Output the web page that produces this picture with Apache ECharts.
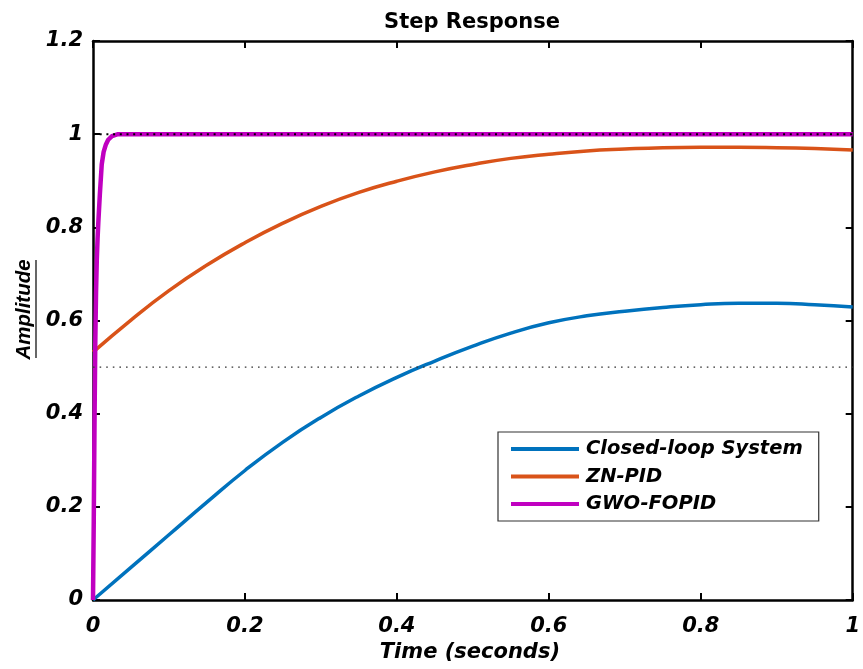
<!DOCTYPE html>
<html><head><meta charset="utf-8">
<script src="https://cdn.jsdelivr.net/npm/echarts@6/dist/echarts.min.js"></script>
<style>html,body{margin:0;padding:0;background:#fff}#c{width:863px;height:669px}</style>
</head><body><div id="c"></div>
<script>
const seriesNames = ['Closed-loop System', 'ZN-PID', 'GWO-FOPID'];
const tTime = [0, 0.05, 0.1, 0.15, 0.2, 0.25, 0.3, 0.35, 0.4, 0.45, 0.5, 0.55, 0.6, 0.65, 0.7, 0.75, 0.8, 0.85, 0.9, 0.95, 1.0];
const closedLoop = [0, 0.070, 0.140, 0.210, 0.278, 0.339, 0.392, 0.438, 0.478, 0.513, 0.545, 0.573, 0.595, 0.610, 0.620, 0.628, 0.634, 0.637, 0.637, 0.634, 0.629];
const znPid = [0.532, 0.601, 0.664, 0.719, 0.767, 0.809, 0.845, 0.875, 0.899, 0.919, 0.935, 0.948, 0.957, 0.964, 0.968, 0.971, 0.972, 0.972, 0.971, 0.969, 0.966];
const gwoTime = [0, 0.001, 0.002, 0.003, 0.004, 0.005, 0.006, 0.007, 0.009, 0.0115, 0.014, 0.017, 0.02, 0.025, 0.033, 1.0];
const gwoFopid = [0, 0.17, 0.38, 0.55, 0.66, 0.73, 0.775, 0.81, 0.87, 0.935, 0.962, 0.978, 0.988, 0.996, 1.0, 1.0];
const refTime = [0, 1];
const refFinal = [1, 1];
const refHalf = [0.5, 0.5];
const xTicks = [0, 0.2, 0.4, 0.6, 0.8, 1];
const yTicks = [0, 0.2, 0.4, 0.6, 0.8, 1, 1.2];

const zip = (a, b) => a.map((v, i) => [v, b[i]]);
const WIDE = '"DejaVu Sans", sans-serif';
const ARIAL = '"Liberation Sans", Arial, sans-serif';
const colors = ['#0072BD', '#D95319', '#C000C0'];

const chart = echarts.init(document.getElementById('c'), null, {renderer: 'canvas'});
const tickLabel = {fontFamily: WIDE, fontWeight: 'bold', fontStyle: 'italic', fontSize: 21, color: '#000'};
const axLine = {show: true, onZero: false, lineStyle: {color: '#000', width: 2.5}};
const axTick = {show: true, inside: true, length: 7, lineStyle: {color: '#000', width: 2}};
chart.setOption({
  animation: false,
  backgroundColor: '#fff',
  title: {
    text: 'Step Response', left: 467, top: 7, textAlign: 'center',
    textStyle: {fontFamily: WIDE, fontWeight: 'bold', fontSize: 21, color: '#000'}
  },
  grid: {left: 93, right: 9, top: 41, bottom: 69, containLabel: false},
  legend: {
    data: seriesNames, orient: 'vertical', left: 498, top: 432,
    itemWidth: 68, itemHeight: 4, itemGap: 7.5, icon: 'rect',
    padding: [7, 16, 7, 13],
    borderColor: '#333', borderWidth: 1.2, backgroundColor: '#fff',
    textStyle: {fontFamily: WIDE, fontWeight: 'bold', fontStyle: 'italic', fontSize: 19.5, lineHeight: 20, color: '#000', padding: [0, 0, 0, 2]}
  },
  xAxis: [{
    type: 'value', min: 0, max: 1, interval: 0.2,
    name: 'Time (seconds)', nameLocation: 'middle', nameGap: 42,
    nameTextStyle: {fontFamily: WIDE, fontWeight: 'bold', fontStyle: 'italic', fontSize: 21, color: '#000', padding: [0, 6, 0, 0]},
    axisLine: axLine, axisTick: axTick,
    axisLabel: Object.assign({margin: 16, formatter: v => String(+v.toFixed(1))}, tickLabel),
    splitLine: {show: false}
  }, {
    type: 'value', position: 'top', min: 0, max: 1, interval: 0.2,
    axisLine: axLine, axisTick: axTick,
    axisLabel: {show: false}, splitLine: {show: false}
  }],
  yAxis: [{
    type: 'value', min: 0, max: 1.2, interval: 0.2,
    name: 'Amplitude', nameLocation: 'middle', nameGap: 59, nameRotate: 90,
    nameTextStyle: {fontFamily: ARIAL, fontWeight: 'bold', fontStyle: 'italic', fontSize: 20.5, color: '#000', padding: [0, 0, 0, 22]},
    axisLine: axLine, axisTick: axTick,
    axisLabel: Object.assign({margin: 10, formatter: v => String(+v.toFixed(1))}, tickLabel),
    splitLine: {show: false}
  }, {
    type: 'value', position: 'right', min: 0, max: 1.2, interval: 0.2,
    axisLine: axLine, axisTick: axTick,
    axisLabel: {show: false}, splitLine: {show: false}
  }],
  graphic: [{
    type: 'line', shape: {x1: 36, y1: 260, x2: 36, y2: 358},
    style: {stroke: '#000', lineWidth: 1.2}, silent: true
  }],
  series: [
    {name: seriesNames[0], type: 'line', data: zip(tTime, closedLoop), smooth: 0.5,
     showSymbol: false, color: colors[0], lineStyle: {width: 3.5, color: colors[0]}, z: 3},
    {name: seriesNames[1], type: 'line', data: zip(tTime, znPid), smooth: 0.5,
     showSymbol: false, color: colors[1], lineStyle: {width: 3.5, color: colors[1]}, z: 3},
    {name: seriesNames[2], type: 'line', data: zip(gwoTime, gwoFopid), smooth: false,
     showSymbol: false, color: colors[2], lineStyle: {width: 4.5, color: colors[2], join: 'round'}, z: 4},
    {name: 'ref1', type: 'line', data: zip(refTime, refFinal), showSymbol: false, silent: true,
     lineStyle: {width: 2, color: '#000', type: [2, 4.7]}, z: 5},
    {name: 'ref2', type: 'line', data: zip(refTime, refHalf), showSymbol: false, silent: true,
     lineStyle: {width: 1.3, color: '#333', type: [1.6, 5]}, z: 5}
  ]
});
</script>
</body></html>
